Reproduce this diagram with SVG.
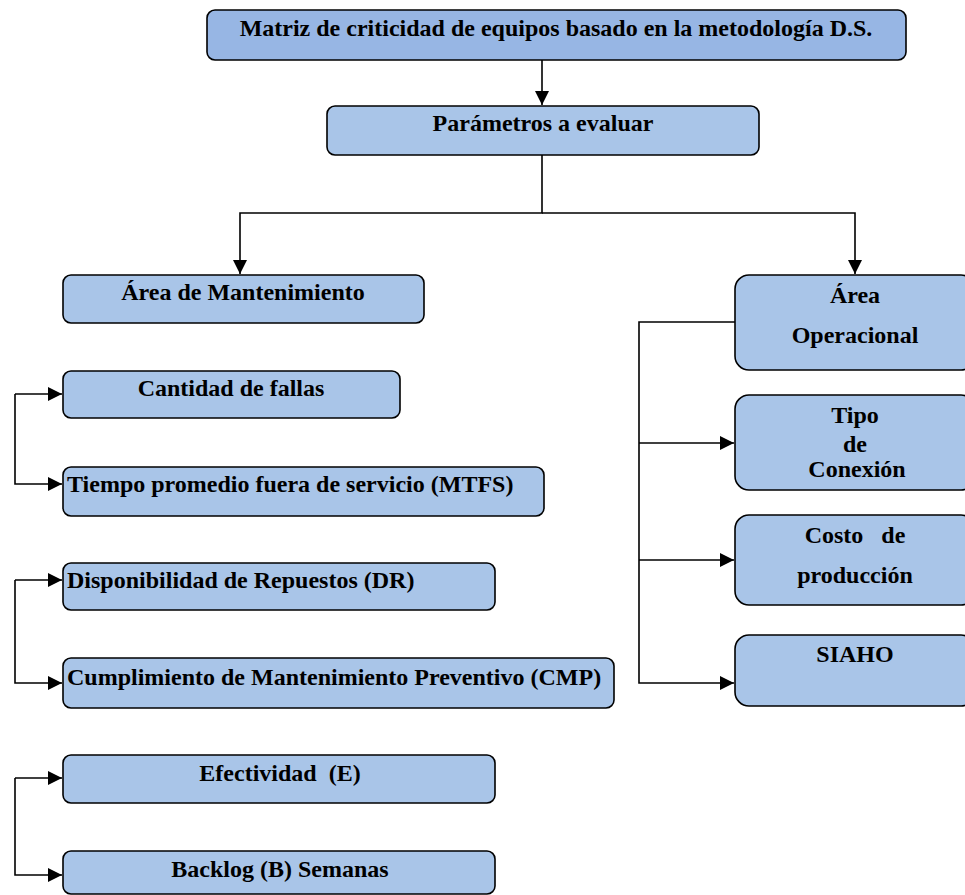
<svg xmlns="http://www.w3.org/2000/svg" width="965" height="895" viewBox="0 0 965 895">
<style>
.box{fill:#A9C5E8;stroke:#000;stroke-width:1.6}
.top{fill:#97B6E4}
.t{font-family:"Liberation Serif","Times New Roman",serif;font-weight:bold;font-size:24px;fill:#000}
.c{text-anchor:middle}
.ln{fill:none;stroke:#000;stroke-width:1.6}
</style>
<defs>
<marker id="ah" viewBox="0 0 10 10" refX="10" refY="5" markerWidth="14" markerHeight="14" markerUnits="userSpaceOnUse" orient="auto">
<path d="M0,0 L10,5 L0,10 Z" fill="#000"/>
</marker>
</defs>
<rect width="965" height="895" fill="#fff"/>
<g id="connectors">
<path class="ln" d="M542,60 V105" marker-end="url(#ah)"/>
<path class="ln" d="M542,155 V213 H240 V274" marker-end="url(#ah)"/>
<path class="ln" d="M542,213 H855 V274" marker-end="url(#ah)"/>
<path class="ln" d="M15,394 H62" marker-end="url(#ah)"/>
<path class="ln" d="M15,394 V484 H62" marker-end="url(#ah)"/>
<path class="ln" d="M15,580 H62" marker-end="url(#ah)"/>
<path class="ln" d="M15,580 V683 H62" marker-end="url(#ah)"/>
<path class="ln" d="M15,778 H62" marker-end="url(#ah)"/>
<path class="ln" d="M15,778 V875 H62" marker-end="url(#ah)"/>
<path class="ln" d="M735,322 H639 V683 H734" marker-end="url(#ah)"/>
<path class="ln" d="M639,443 H734" marker-end="url(#ah)"/>
<path class="ln" d="M639,560 H734" marker-end="url(#ah)"/>
</g>
<g id="n_matriz">
<rect class="box top" x="207" y="10" width="699" height="50" rx="8"/>
<text class="t c" x="556" y="36">Matriz de criticidad de equipos basado en la metodología D.S.</text>
</g>
<g id="n_parametros">
<rect class="box" x="327" y="106" width="432" height="49" rx="8"/>
<text class="t c" x="543" y="131">Parámetros a evaluar</text>
</g>
<g id="n_mant">
<rect class="box" x="63" y="275" width="361" height="48" rx="8"/>
<text class="t c" x="243" y="300">Área de Mantenimiento</text>
</g>
<g id="n_oper">
<rect class="box" x="735" y="275" width="240" height="95" rx="14"/>
<text class="t c" x="855" y="303">Área</text>
<text class="t c" x="855" y="343">Operacional</text>
</g>
<g id="n_fallas">
<rect class="box" x="63" y="371" width="337" height="47" rx="8"/>
<text class="t c" x="231" y="396">Cantidad de fallas</text>
</g>
<g id="n_mtfs">
<rect class="box" x="63" y="467" width="481" height="49" rx="8"/>
<text class="t" x="67" y="492">Tiempo promedio fuera de servicio (MTFS)</text>
</g>
<g id="n_dr">
<rect class="box" x="63" y="563" width="432" height="47" rx="8"/>
<text class="t" x="67" y="588">Disponibilidad de Repuestos (DR)</text>
</g>
<g id="n_cmp">
<rect class="box" x="63" y="658" width="551" height="50" rx="8"/>
<text class="t" x="67" y="685">Cumplimiento de Mantenimiento Preventivo (CMP)</text>
</g>
<g id="n_e">
<rect class="box" x="63" y="755" width="432" height="48" rx="8"/>
<text class="t c" x="280" y="781" xml:space="preserve">Efectividad  (E)</text>
</g>
<g id="n_b">
<rect class="box" x="63" y="851" width="432" height="43" rx="8"/>
<text class="t c" x="280" y="877">Backlog (B) Semanas</text>
</g>
<g id="n_tipo">
<rect class="box" x="735" y="395" width="240" height="95" rx="14"/>
<text class="t c" x="855" y="423">Tipo</text>
<text class="t c" x="855" y="452">de</text>
<text class="t c" x="857" y="477">Conexión</text>
</g>
<g id="n_costo">
<rect class="box" x="735" y="515" width="240" height="90" rx="14"/>
<text class="t c" x="855" y="543" xml:space="preserve">Costo   de</text>
<text class="t c" x="855" y="583">producción</text>
</g>
<g id="n_siaho">
<rect class="box" x="735" y="635" width="240" height="71" rx="14"/>
<text class="t c" x="855" y="662">SIAHO</text>
</g>
</svg>
